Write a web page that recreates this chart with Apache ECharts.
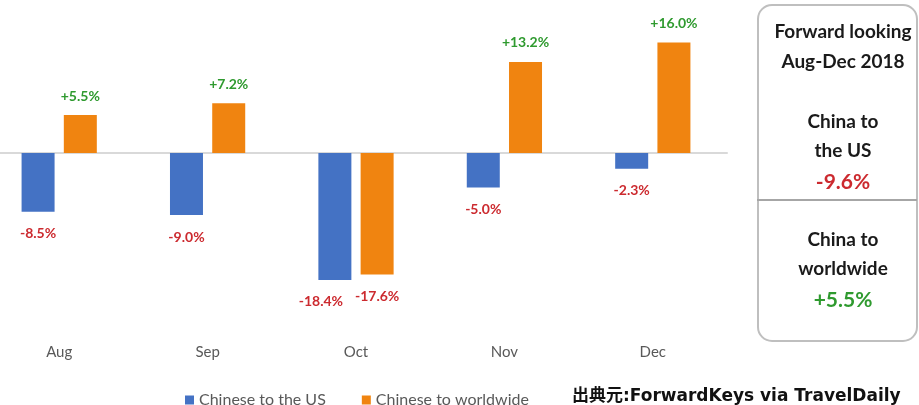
<!DOCTYPE html>
<html>
<head>
<meta charset="utf-8">
<script src="https://cdn.jsdelivr.net/npm/echarts@6/dist/echarts.min.js"></script>
<style>
  html, body { margin: 0; padding: 0; background: #fff; }
  #main { width: 919px; height: 405px; }
</style>
</head>
<body>
<div id="main"></div>
<script>
// data
var months = ['Aug', 'Sep', 'Oct', 'Nov', 'Dec'];
var toUS = [-8.5, -9.0, -18.4, -5.0, -2.3];
var toWorld = [5.5, 7.2, -17.6, 13.2, 16.0];
var seriesNames = ['Chinese to the US', 'Chinese to worldwide'];
var summaryUS = -9.6;
var summaryWorld = 5.5;

var face = 'Lato, "Open Sans", sans-serif';
var RED = '#cc2a2f';
var GREEN = '#2f9a2f';

function fmt(v) {
    return (v > 0 ? '+' : '') + v.toFixed(1) + '%';
}

function labelFor(v) {
    return {
        value: v,
        label: {
            position: v >= 0 ? 'top' : 'bottom',
            distance: v >= 0 ? 12 : 15,
            color: v >= 0 ? GREEN : RED
        }
    };
}

var barLabel = {
    show: true, fontFamily: face, fontSize: 14, fontWeight: 'bold',
    formatter: function (p) { return fmt(p.value); }
};

var usData = toUS.map(labelFor);
// Oct labels sit side by side, the US one is nudged left so they don't touch
usData[2].label.offset = [-14, 0];

var chart = echarts.init(document.getElementById('main'));
var option = {
    animation: false,
    backgroundColor: '#fff',
    grid: { left: -15, width: 742, top: 15, height: 276, containLabel: false, outerBoundsMode: 'none' },
    legend: {
        top: 387,
        left: 180,
        itemWidth: 9,
        itemHeight: 9,
        itemGap: 36,
        icon: 'rect',
        textStyle: { fontFamily: face, fontSize: 16, color: '#595959' },
        data: seriesNames
    },
    xAxis: {
        type: 'category',
        data: months,
        axisLine: { onZero: true, lineStyle: { color: '#d9d9d9', width: 2 } },
        axisTick: { show: false },
        axisLabel: { interval: 0, margin: 54, color: '#595959', fontFamily: face, fontSize: 15 }
    },
    yAxis: {
        type: 'value', min: -20, max: 20, show: false,
        splitLine: { show: false }
    },
    series: [
        {
            name: seriesNames[0],
            type: 'bar',
            barWidth: 33,
            barGap: '28%',
            itemStyle: { color: '#4472c4' },
            label: barLabel,
            data: usData
        },
        {
            name: seriesNames[1],
            type: 'bar',
            barWidth: 33,
            itemStyle: { color: '#f08410' },
            label: barLabel,
            data: toWorld.map(labelFor)
        }
    ],
    graphic: [
        {
            type: 'rect', left: 757, top: 4,
            shape: { width: 159, height: 336, r: 14 },
            style: { fill: '#fff', stroke: '#bfbfbf', lineWidth: 2 }
        },
        {
            type: 'rect', left: 757, top: 199,
            shape: { width: 160, height: 2 },
            style: { fill: '#a6a6a6' }
        },
        { type: 'text', x: 843, y: 32, style: { text: 'Forward looking', align: 'center', verticalAlign: 'middle', font: 'bold 19px ' + face, fill: '#1a1a1a' } },
        { type: 'text', x: 843, y: 62, style: { text: 'Aug-Dec 2018', align: 'center', verticalAlign: 'middle', font: 'bold 19px ' + face, fill: '#1a1a1a' } },
        { type: 'text', x: 843, y: 122, style: { text: 'China to', align: 'center', verticalAlign: 'middle', font: 'bold 19px ' + face, fill: '#1a1a1a' } },
        { type: 'text', x: 843, y: 151, style: { text: 'the US', align: 'center', verticalAlign: 'middle', font: 'bold 19px ' + face, fill: '#1a1a1a' } },
        { type: 'text', x: 843, y: 182, style: { text: fmt(summaryUS), align: 'center', verticalAlign: 'middle', font: 'bold 21px ' + face, fill: RED } },
        { type: 'text', x: 843, y: 240, style: { text: 'China to', align: 'center', verticalAlign: 'middle', font: 'bold 19px ' + face, fill: '#1a1a1a' } },
        { type: 'text', x: 843, y: 269, style: { text: 'worldwide', align: 'center', verticalAlign: 'middle', font: 'bold 19px ' + face, fill: '#1a1a1a' } },
        { type: 'text', x: 843, y: 300, style: { text: fmt(summaryWorld), align: 'center', verticalAlign: 'middle', font: 'bold 21px ' + face, fill: GREEN } },
        { type: 'text', x: 572, y: 397, style: { text: '出典元:ForwardKeys via TravelDaily', verticalAlign: 'middle', font: 'bold 17px "DejaVu Sans", "Noto Sans CJK JP", sans-serif', fill: '#111' } }
    ]
};
chart.setOption(option);
</script>
</body>
</html>
